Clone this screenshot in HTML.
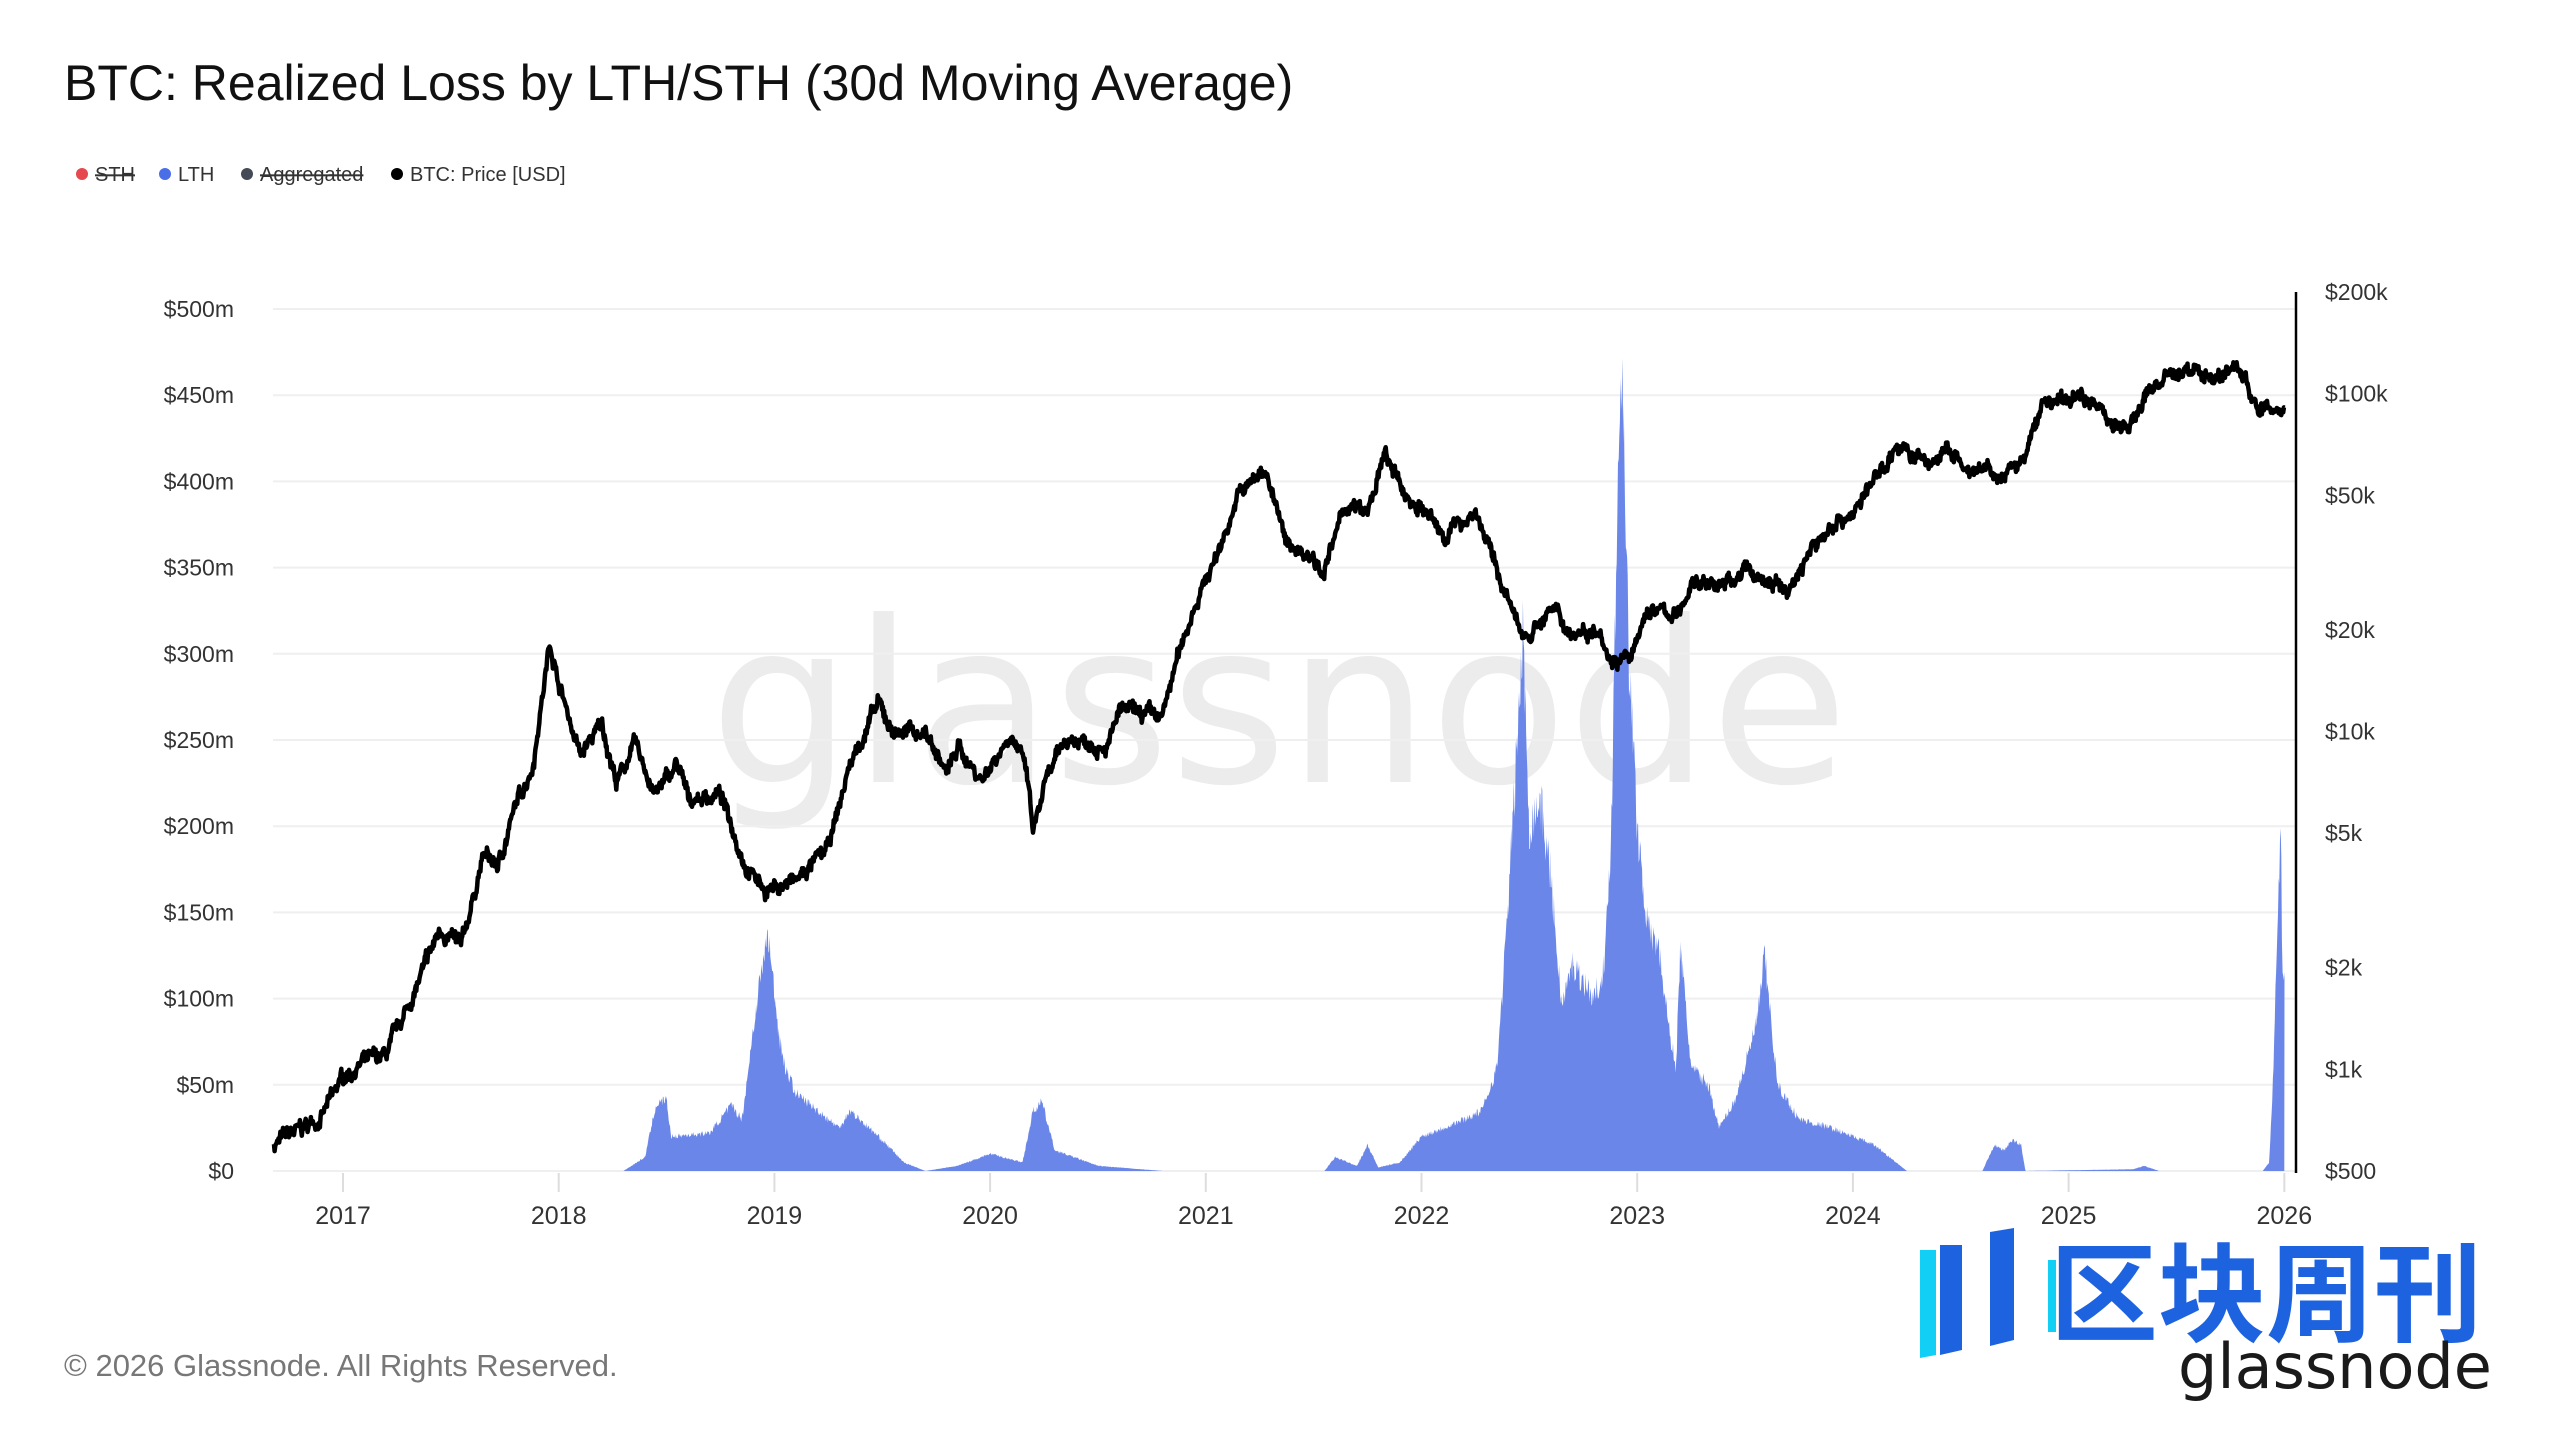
<!DOCTYPE html>
<html><head><meta charset="utf-8"><style>
body{margin:0;width:2560px;height:1440px;background:#fff;overflow:hidden;font-family:"Liberation Sans",sans-serif;}
svg{position:absolute;left:0;top:0}
</style></head><body>
<svg id="s" width="2560" height="1440" xmlns="http://www.w3.org/2000/svg" font-family="Liberation Sans, sans-serif">
<text x="1279" y="782" text-anchor="middle" font-size="225" fill="#ececec" font-family="DejaVu Sans, sans-serif">glassnode</text>
<g id="grid" stroke="#efefef" stroke-width="2"></g>
<g id="ylab" font-size="23" fill="#333" text-anchor="end"></g>
<g id="rlab" font-size="23" fill="#333"></g>
<g id="xlab" font-size="25" fill="#333" text-anchor="middle"></g>
<path id="area" fill="#6a86e8"/>
<path id="price" fill="none" stroke="#000" stroke-width="4.5" stroke-linejoin="round"/>
<line x1="2296" y1="292" x2="2296" y2="1173" stroke="#000" stroke-width="2.5"/>
<text x="64" y="100" font-size="50" fill="#111">BTC: Realized Loss by LTH/STH (30d Moving Average)</text>
<g font-size="20" fill="#333">
<circle cx="82" cy="174" r="6" fill="#e5484d"/><text x="95" y="181" text-decoration="line-through">STH</text>
<circle cx="165" cy="174" r="6" fill="#4a6ee8"/><text x="178" y="181">LTH</text>
<circle cx="247" cy="174" r="6" fill="#444b57"/><text x="260" y="181" text-decoration="line-through">Aggregated</text>
<circle cx="397" cy="174" r="6" fill="#000"/><text x="410" y="181">BTC: Price [USD]</text>
</g>
<text x="64" y="1376" font-size="31" fill="#777">© 2026 Glassnode. All Rights Reserved.</text>
<g>
<polygon points="1920,1250 1936,1250 1936,1355 1920,1358" fill="#12d0f5"/>
<polygon points="1940,1245 1962,1245 1962,1350 1940,1355" fill="#1d63e0"/>
<polygon points="1990,1232 2014,1228 2014,1340 1990,1346" fill="#1d63e0"/>
<rect x="2048" y="1260" width="8" height="72" fill="#12d0f5"/>
<text x="2050" y="1333" font-size="108" font-weight="bold" fill="#1d63e0" font-family="Noto Sans CJK SC, sans-serif">区块周刊</text>
<text x="2178" y="1388" font-size="62" fill="#1a1a1a" font-family="DejaVu Sans, sans-serif">glassnode</text>
</g>
</svg>
<script>
var X=function(y){return 343+(y-2017)*215.7};
var NS="http://www.w3.org/2000/svg";
function el(p,t,a,txt){var e=document.createElementNS(NS,t);for(var k in a)e.setAttribute(k,a[k]);if(txt)e.textContent=txt;document.getElementById(p).appendChild(e);}
var Y0=1171,YS=86.2;
for(var i=0;i<=10;i++){var y=Y0-i*YS;el('grid','line',{x1:273,x2:2296,y1:y,y2:y});el('ylab','text',{x:234,y:y+8},i==0?'$0':'$'+i*50+'m');}
var rl=[['$200k',200000],['$100k',100000],['$50k',50000],['$20k',20000],['$10k',10000],['$5k',5000],['$2k',2000],['$1k',1000],['$500',500]];
function PY(p){return 292+879*Math.log10(200000/p)/2.602;}
rl.forEach(function(r){el('rlab','text',{x:2325,y:PY(r[1])+8},r[0]);});
for(var yr=2017;yr<=2026;yr++){el('grid','line',{x1:X(yr),x2:X(yr),y1:1173,y2:1192,stroke:'#ddd'});el('xlab','text',{x:X(yr),y:1224},''+yr);}
var seed=7;function rnd(){seed=(seed*16807)%2147483647;return seed/2147483647;}
var P=[[2016.68,600],[2016.9,720],[2017.0,950],[2017.1,1050],[2017.2,1100],[2017.35,1800],[2017.45,2600],[2017.55,2300],[2017.65,4300],[2017.72,4000],[2017.8,6000],[2017.88,8000],[2017.96,18500],[2018.0,14000],[2018.1,8500],[2018.2,10500],[2018.27,7000],[2018.35,9200],[2018.45,6500],[2018.55,8000],[2018.6,6300],[2018.75,6500],[2018.87,4000],[2018.96,3400],[2019.1,3600],[2019.25,4500],[2019.35,8000],[2019.48,12000],[2019.55,10000],[2019.7,10000],[2019.8,7500],[2019.85,9000],[2019.96,7200],[2020.1,10000],[2020.17,7500],[2020.2,5000],[2020.25,6800],[2020.35,9500],[2020.55,9200],[2020.6,11500],[2020.8,11000],[2020.85,15000],[2020.95,24000],[2021.05,33000],[2021.15,50000],[2021.28,60000],[2021.37,36000],[2021.5,33000],[2021.55,30000],[2021.65,47000],[2021.75,44000],[2021.83,66000],[2021.92,50000],[2022.0,46000],[2022.1,38000],[2022.25,45000],[2022.35,30000],[2022.45,20000],[2022.5,19500],[2022.6,23000],[2022.7,19500],[2022.83,20500],[2022.87,16500],[2022.98,16600],[2023.05,23000],[2023.2,22000],[2023.25,28000],[2023.4,27000],[2023.5,30000],[2023.7,26000],[2023.8,34000],[2023.92,42000],[2024.0,44000],[2024.2,70000],[2024.35,62000],[2024.45,68000],[2024.55,56000],[2024.62,60000],[2024.68,55000],[2024.8,65000],[2024.88,95000],[2025.0,95000],[2025.08,100000],[2025.2,83000],[2025.28,78000],[2025.38,105000],[2025.55,118000],[2025.7,112000],[2025.77,122000],[2025.82,110000],[2025.88,88000],[2025.95,90000],[2026.0,89000]];
function interp(A,t,log){for(var i=0;i<A.length-1;i++){if(t>=A[i][0]&&t<=A[i+1][0]){var f=(t-A[i][0])/(A[i+1][0]-A[i][0]);if(log)return Math.exp(Math.log(A[i][1])*(1-f)+Math.log(A[i+1][1])*f);return A[i][1]*(1-f)+A[i+1][1]*f;}}return A[A.length-1][1];}
var d='',n=0,w=0;
for(var t=2016.68;t<=2026.001;t+=0.003){w=w*0.85+(rnd()-0.5)*0.05;var p=interp(P,t,true)*Math.exp(w+(rnd()-0.5)*0.06);d+=(n++?'L':'M')+X(t).toFixed(1)+','+PY(p).toFixed(1);}
document.getElementById('price').setAttribute('d',d);
var L=[[2016.68,0],[2018.3,0],[2018.4,8],[2018.45,38],[2018.5,42],[2018.52,20],[2018.7,22],[2018.8,38],[2018.85,30],[2018.92,100],[2018.97,138],[2019.02,80],[2019.05,60],[2019.1,45],[2019.3,25],[2019.35,35],[2019.5,18],[2019.6,5],[2019.7,0],[2019.85,3],[2020.0,10],[2020.15,5],[2020.2,35],[2020.24,40],[2020.3,12],[2020.5,3],[2020.8,0],[2021.55,0],[2021.6,8],[2021.7,3],[2021.75,15],[2021.8,2],[2021.9,5],[2022.0,20],[2022.1,25],[2022.2,30],[2022.28,35],[2022.35,60],[2022.4,150],[2022.44,240],[2022.47,310],[2022.5,200],[2022.55,215],[2022.6,170],[2022.65,95],[2022.7,120],[2022.75,110],[2022.8,100],[2022.85,120],[2022.88,200],[2022.91,400],[2022.93,485],[2022.96,300],[2023.0,200],[2023.05,140],[2023.1,130],[2023.15,80],[2023.18,60],[2023.2,130],[2023.25,60],[2023.33,50],[2023.38,25],[2023.45,40],[2023.52,70],[2023.56,90],[2023.59,125],[2023.65,50],[2023.75,30],[2023.9,25],[2024.0,20],[2024.1,15],[2024.2,5],[2024.25,0],[2024.6,0],[2024.63,8],[2024.66,15],[2024.7,12],[2024.74,18],[2024.78,15],[2024.8,0],[2025.3,1],[2025.35,3],[2025.42,0],[2025.9,0],[2025.93,5],[2025.95,60],[2025.97,150],[2025.985,200],[2025.99,110],[2026.0,110]];
var a='M'+X(2016.68)+','+Y0;
for(var t=2016.68;t<=2026.001;t+=0.003){var v=interp(L,t,false);v=v*(1+(rnd()-0.5)*0.15);a+='L'+X(t).toFixed(1)+','+(Y0-v*YS/50).toFixed(1);}
a+='L'+X(2026)+','+Y0+'Z';
document.getElementById('area').setAttribute('d',a);
</script>
</body></html>
